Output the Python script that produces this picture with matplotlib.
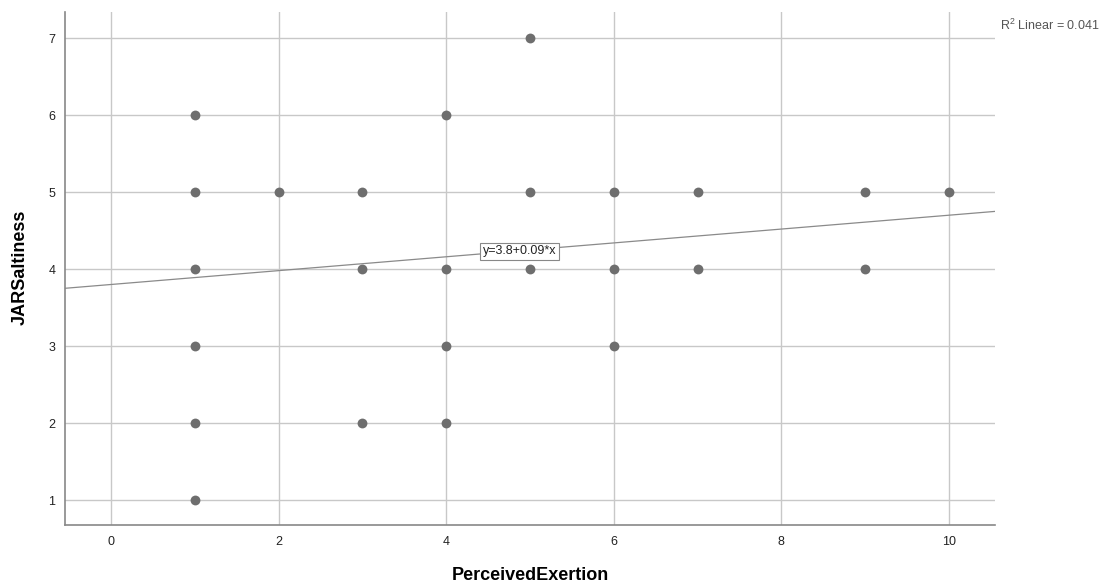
import numpy as np
import matplotlib.pyplot as plt

plt.rcParams['font.family'] = ['Liberation Sans', 'DejaVu Sans']

# observed points (PerceivedExertion, JARSaltiness)
exertion = [1, 1, 1, 1, 1, 1, 2, 3, 3, 3, 4, 4, 4, 4, 5, 5, 5, 6, 6, 6, 7, 7, 9, 9, 10]
saltiness = [1, 2, 3, 4, 5, 6, 5, 2, 4, 5, 2, 3, 4, 6, 4, 5, 7, 3, 4, 5, 4, 5, 4, 5, 5]

intercept = 3.8
slope = 0.09
r2 = 0.041

xticks = [0, 2, 4, 6, 8, 10]
yticks = [1, 2, 3, 4, 5, 6, 7]

fig = plt.figure(figsize=(11.17, 5.88), dpi=100)
ax = fig.add_axes([0.0582, 0.1071, 0.8326, 0.8725])

xlim = (-0.55, 10.55)
ylim = (0.675, 7.34)
ax.set_xlim(*xlim)
ax.set_ylim(*ylim)

ax.set_xticks(xticks)
ax.set_yticks(yticks)
ax.grid(True, color='#c8c8c8', linewidth=1)
ax.set_axisbelow(True)
ax.tick_params(length=0, labelsize=9, colors='#222222')
ax.tick_params(axis='x', pad=8)
ax.tick_params(axis='y', pad=7)

for s in ['top', 'right']:
    ax.spines[s].set_visible(False)
for s in ['left', 'bottom']:
    ax.spines[s].set_color('#888888')
    ax.spines[s].set_linewidth(1.2)

ax.scatter(exertion, saltiness, s=50, color='#6e6e6e', zorder=3, linewidths=0)

xs = np.array(xlim)
ax.plot(xs, intercept + slope * xs, color='#8a8a8a', linewidth=0.9, zorder=2)

ax.text(4.44, 4.23, 'y=3.8+0.09*x', fontsize=9, va='center', ha='left', color='#222222',
        bbox=dict(boxstyle='square,pad=0.22', facecolor='white', edgecolor='#888888', linewidth=0.8),
        zorder=4)

fig.text(0.8955, 0.957, '$\\mathregular{R^2}$ Linear = %.3f' % r2, fontsize=9, color='#555555',
         ha='left', va='center')

fig.text(0.4745, 0.022, 'PerceivedExertion', fontsize=13, fontweight='bold', ha='center', va='center')
fig.text(0.018, 0.546, 'JARSaltiness', fontsize=13, fontweight='bold', ha='center', va='center',
         rotation=90)

fig.savefig('out.png', dpi=100)
